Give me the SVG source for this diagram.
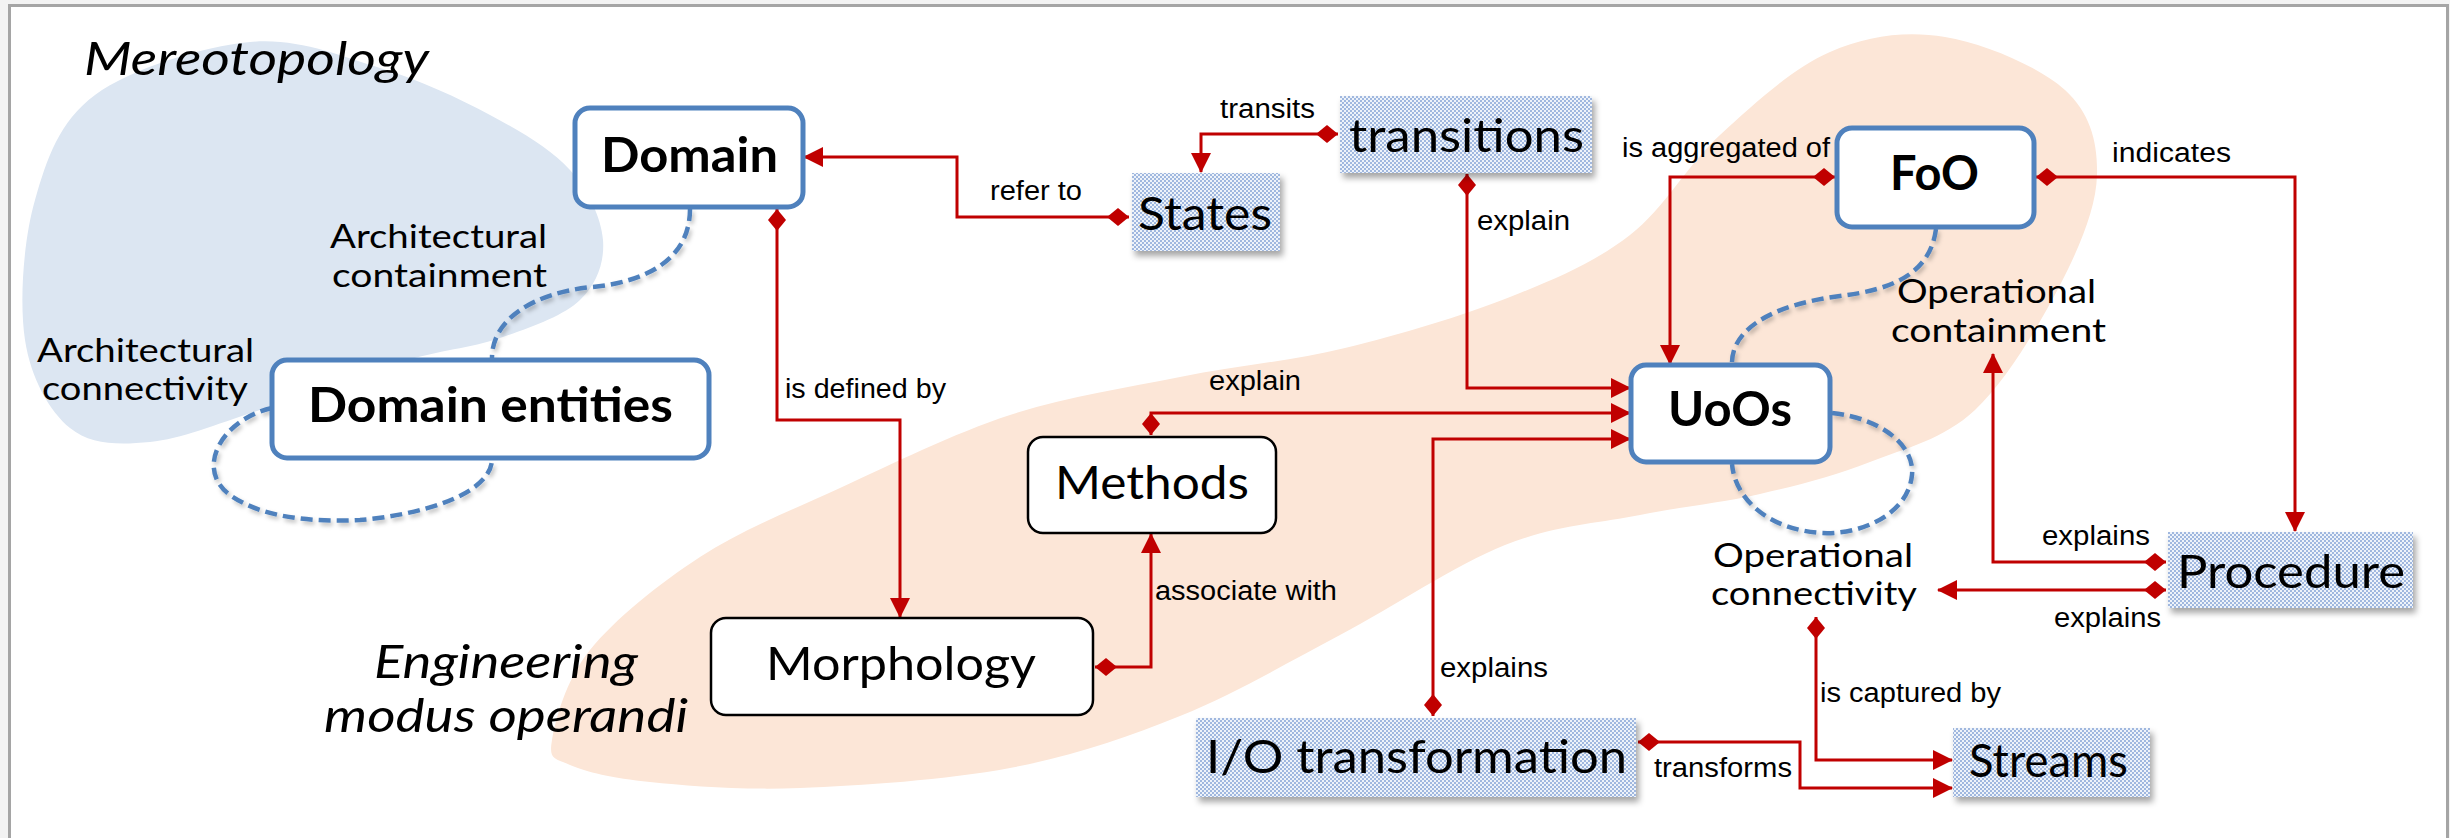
<svg xmlns="http://www.w3.org/2000/svg" width="2450" height="838" viewBox="0 0 2450 838">
  <style>
    .node-blue { fill: #ffffff; stroke: #4f81bd; stroke-width: 5; }
    .node-black { fill: #ffffff; stroke: #000000; stroke-width: 2.5; }
    .node-dots { fill: url(#dots); stroke: none; filter: url(#boxShadow); }
    .t-bold { font-family: Lato, "Open Sans", sans-serif; font-weight: 700; font-size: 48px; fill: #000; }
    .t-node { font-family: Lato, "Open Sans", sans-serif; font-size: 46px; fill: #000; }
    .t-region { font-family: Lato, "Open Sans", sans-serif; font-style: italic; font-size: 46px; fill: #000; }
    .t-rel { font-family: Lato, "Open Sans", sans-serif; font-size: 32px; fill: #000; }
    .t-edge { font-family: "Liberation Sans", Arial, sans-serif; font-size: 27px; fill: #000; }
    .edge { fill: none; stroke: #c00000; stroke-width: 3; marker-start: url(#diamond); marker-end: url(#arrow); }
    .dash { fill: none; stroke: #4f81bd; stroke-width: 4.5; stroke-dasharray: 12 6; filter: url(#lineShadow); }
  </style>
  <defs>
    <pattern id="dots" width="4" height="4" patternUnits="userSpaceOnUse">
      <rect width="4" height="4" fill="#eef3fa"/>
      <circle cx="1" cy="1" r="0.95" fill="#7f9fd3"/>
      <circle cx="3" cy="3" r="0.95" fill="#7f9fd3"/>
    </pattern>
    <filter id="boxShadow" x="-10%" y="-15%" width="125%" height="145%">
      <feDropShadow dx="3" dy="5" stdDeviation="3" flood-color="#000" flood-opacity="0.35"/>
    </filter>
    <filter id="lineShadow" x="-10%" y="-10%" width="130%" height="130%">
      <feDropShadow dx="2" dy="3" stdDeviation="2" flood-color="#000" flood-opacity="0.25"/>
    </filter>
    <marker id="diamond" markerUnits="userSpaceOnUse" viewBox="0 0 22 18" markerWidth="22" markerHeight="18" refX="0" refY="9" orient="auto">
      <path d="M0,9 L11,0 L22,9 L11,18 Z" fill="#c00000"/>
    </marker>
    <marker id="arrow" markerUnits="userSpaceOnUse" viewBox="0 0 20 20" markerWidth="20" markerHeight="20" refX="19" refY="10" orient="auto">
      <path d="M0,0 L20,10 L0,20 Z" fill="#c00000"/>
    </marker>
  </defs>

  <!-- page and frame -->
  <rect x="0" y="0" width="2450" height="838" fill="#f3f3f3"/>
  <rect x="9.5" y="5.5" width="2438" height="850" fill="#ffffff" stroke="#a5a5a5" stroke-width="3"/>

  <!-- background regions -->
  <g id="regions">
    <path id="region-mereotopology" fill="#dce6f2" d="M250,42 C297.5,37.5 340,55.8 380,68 C420,80.2 458.3,98 490,115 C521.7,132 551.2,149.2 570,170 C588.8,190.8 601.3,218.3 603,240 C604.7,261.7 597.2,283.7 580,300 C562.8,316.3 530,327.7 500,338 C470,348.3 440,350 400,362 C360,374 301.7,396.7 260,410 C218.3,423.3 181.7,439 150,442 C118.3,445 90.8,445 70,428 C49.2,411 30.8,378 25,340 C19.2,302 23.3,240.8 35,200 C46.7,159.2 59.2,121.3 95,95 C130.8,68.7 202.5,46.5 250,42 Z"/>
    <path id="region-engineering" fill="#fce6d7" d="M552,740 C555.3,720.8 565.3,680.5 590,650 C614.7,619.5 658.3,584 700,557 C741.7,530 788.3,511.7 840,488 C891.7,464.3 953.3,433.5 1010,415 C1066.7,396.5 1124.2,388.2 1180,377 C1235.8,365.8 1290,361.3 1345,348 C1400,334.7 1462.5,315.8 1510,297 C1557.5,278.2 1595,262 1630,235 C1665,208 1686.7,165.5 1720,135 C1753.3,104.5 1792.5,68.3 1830,52 C1867.5,35.7 1905.8,30.7 1945,37 C1984.2,43.3 2039.7,67 2065,90 C2090.3,113 2097.8,142.5 2097,175 C2096.2,207.5 2080.3,245.8 2060,285 C2039.7,324.2 2006.7,380.5 1975,410 C1943.3,439.5 1905.8,448 1870,462 C1834.2,476 1798.3,485.2 1760,494 C1721.7,502.8 1682.5,506.5 1640,515 C1597.5,523.5 1555,525 1505,545 C1455,565 1394.2,606.5 1340,635 C1285.8,663.5 1235,693.8 1180,716 C1125,738.2 1073.3,756 1010,768 C946.7,780 860,785.7 800,788 C740,790.3 688.3,785.8 650,782 C611.7,778.2 586.3,772 570,765 C553.7,758 548.7,759.2 552,740 Z"/>
    <text class="t-region" x="84" y="75" textLength="345" lengthAdjust="spacingAndGlyphs">Mereotopology</text>
    <text class="t-region" x="374" y="678" textLength="264" lengthAdjust="spacingAndGlyphs">Engineering</text>
    <text class="t-region" x="324" y="732" textLength="364" lengthAdjust="spacingAndGlyphs">modus operandi</text>
  </g>

  <!-- containment / connectivity relations -->
  <g id="relations">
    <path class="dash" d="M690,209 C690,260 645,282 592,287 C532,293 492,320 492,358"/>
    <path class="dash" d="M272,408 C220,420 195,470 230,495 C265,520 320,522 360,520 C420,515 490,495 492,460"/>
    <path class="dash" d="M1936,229 C1930,275 1890,290 1840,296 C1770,305 1732,330 1732,363"/>
    <path class="dash" d="M1832,413 C1880,418 1915,445 1912,475 C1908,515 1860,535 1822,533 C1770,530 1735,500 1732,464"/>
    <text class="t-rel" x="330" y="248" textLength="217" lengthAdjust="spacingAndGlyphs">Architectural</text>
    <text class="t-rel" x="332" y="287" textLength="215" lengthAdjust="spacingAndGlyphs">containment</text>
    <text class="t-rel" x="37" y="362" textLength="217" lengthAdjust="spacingAndGlyphs">Architectural</text>
    <text class="t-rel" x="42" y="400" textLength="206" lengthAdjust="spacingAndGlyphs">connectivity</text>
    <text class="t-rel" x="1897" y="303" textLength="199" lengthAdjust="spacingAndGlyphs">Operational</text>
    <text class="t-rel" x="1891" y="342" textLength="215" lengthAdjust="spacingAndGlyphs">containment</text>
    <text class="t-rel" x="1713" y="567" textLength="200" lengthAdjust="spacingAndGlyphs">Operational</text>
    <text class="t-rel" x="1711" y="605" textLength="206" lengthAdjust="spacingAndGlyphs">connectivity</text>
  </g>

  <!-- directed relations -->
  <g id="connectors">
    <path class="edge" d="M1129,217 H957 V157 H804"/>
    <path class="edge" d="M1338,134 H1201 V172"/>
    <path class="edge" d="M1467,174 V388 H1630"/>
    <path class="edge" d="M777,209 V420 H900 V617"/>
    <path class="edge" d="M1095,667 H1151 V534"/>
    <path class="edge" d="M1151,435 V413 H1630"/>
    <path class="edge" d="M1433,716 V439 H1630"/>
    <path class="edge" d="M1835,177 H1670 V364"/>
    <path class="edge" d="M2036,177 H2295 V531"/>
    <path class="edge" d="M2166,562 H1993 V354"/>
    <path class="edge" d="M2166,590 H1938"/>
    <path class="edge" d="M1816,617 V760 H1952"/>
    <path class="edge" d="M1638,742 H1800 V788 H1952"/>
    <text class="t-edge" x="990" y="200" textLength="92" lengthAdjust="spacingAndGlyphs">refer to</text>
    <text class="t-edge" x="1220" y="118" textLength="95" lengthAdjust="spacingAndGlyphs">transits</text>
    <text class="t-edge" x="1477" y="230" textLength="93" lengthAdjust="spacingAndGlyphs">explain</text>
    <text class="t-edge" x="785" y="398" textLength="161" lengthAdjust="spacingAndGlyphs">is defined by</text>
    <text class="t-edge" x="1209" y="390" textLength="92" lengthAdjust="spacingAndGlyphs">explain</text>
    <text class="t-edge" x="1155" y="600" textLength="182" lengthAdjust="spacingAndGlyphs">associate with</text>
    <text class="t-edge" x="1440" y="677" textLength="108" lengthAdjust="spacingAndGlyphs">explains</text>
    <text class="t-edge" x="1622" y="157" textLength="208" lengthAdjust="spacingAndGlyphs">is aggregated of</text>
    <text class="t-edge" x="2112" y="162" textLength="119" lengthAdjust="spacingAndGlyphs">indicates</text>
    <text class="t-edge" x="2042" y="545" textLength="108" lengthAdjust="spacingAndGlyphs">explains</text>
    <text class="t-edge" x="2054" y="627" textLength="107" lengthAdjust="spacingAndGlyphs">explains</text>
    <text class="t-edge" x="1820" y="702" textLength="181" lengthAdjust="spacingAndGlyphs">is captured by</text>
    <text class="t-edge" x="1654" y="777" textLength="138" lengthAdjust="spacingAndGlyphs">transforms</text>
  </g>

  <!-- nodes -->
  <g id="n-domain">
    <rect class="node-blue" x="575" y="108" width="228" height="99" rx="15"/>
    <text class="t-bold" x="601" y="172" textLength="177" lengthAdjust="spacingAndGlyphs">Domain</text>
  </g>
  <g id="n-domain-entities">
    <rect class="node-blue" x="272" y="360" width="437" height="98" rx="15"/>
    <text class="t-bold" x="308" y="422" textLength="365" lengthAdjust="spacingAndGlyphs">Domain entities</text>
  </g>
  <g id="n-states">
    <rect class="node-dots" x="1132" y="173" width="148" height="78"/>
    <text class="t-node" x="1138" y="230" textLength="134" lengthAdjust="spacingAndGlyphs">States</text>
  </g>
  <g id="n-transitions">
    <rect class="node-dots" x="1340" y="96" width="252" height="77"/>
    <text class="t-node" x="1349" y="152" textLength="235" lengthAdjust="spacingAndGlyphs">transitions</text>
  </g>
  <g id="n-foo">
    <rect class="node-blue" x="1837" y="128" width="197" height="99" rx="15"/>
    <text class="t-bold" x="1890" y="190" textLength="89" lengthAdjust="spacingAndGlyphs">FoO</text>
  </g>
  <g id="n-uoos">
    <rect class="node-blue" x="1631" y="365" width="199" height="97" rx="15"/>
    <text class="t-bold" x="1668" y="426" textLength="124" lengthAdjust="spacingAndGlyphs">UoOs</text>
  </g>
  <g id="n-methods">
    <rect class="node-black" x="1028" y="437" width="248" height="96" rx="15"/>
    <text class="t-node" x="1055" y="499" textLength="194" lengthAdjust="spacingAndGlyphs">Methods</text>
  </g>
  <g id="n-morphology">
    <rect class="node-black" x="711" y="618" width="382" height="97" rx="15"/>
    <text class="t-node" x="766" y="680" textLength="270" lengthAdjust="spacingAndGlyphs">Morphology</text>
  </g>
  <g id="n-io-transformation">
    <rect class="node-dots" x="1196" y="718" width="440" height="79"/>
    <text class="t-node" x="1206" y="773" textLength="421" lengthAdjust="spacingAndGlyphs">I/O transformation</text>
  </g>
  <g id="n-procedure">
    <rect class="node-dots" x="2168" y="532" width="245" height="76"/>
    <text class="t-node" x="2177" y="588" font-size="41" textLength="228" lengthAdjust="spacingAndGlyphs">Procedure</text>
  </g>
  <g id="n-streams">
    <rect class="node-dots" x="1953" y="728" width="197" height="69"/>
    <text class="t-node" x="1969" y="777" font-size="39" textLength="159" lengthAdjust="spacingAndGlyphs">Streams</text>
  </g>
</svg>
